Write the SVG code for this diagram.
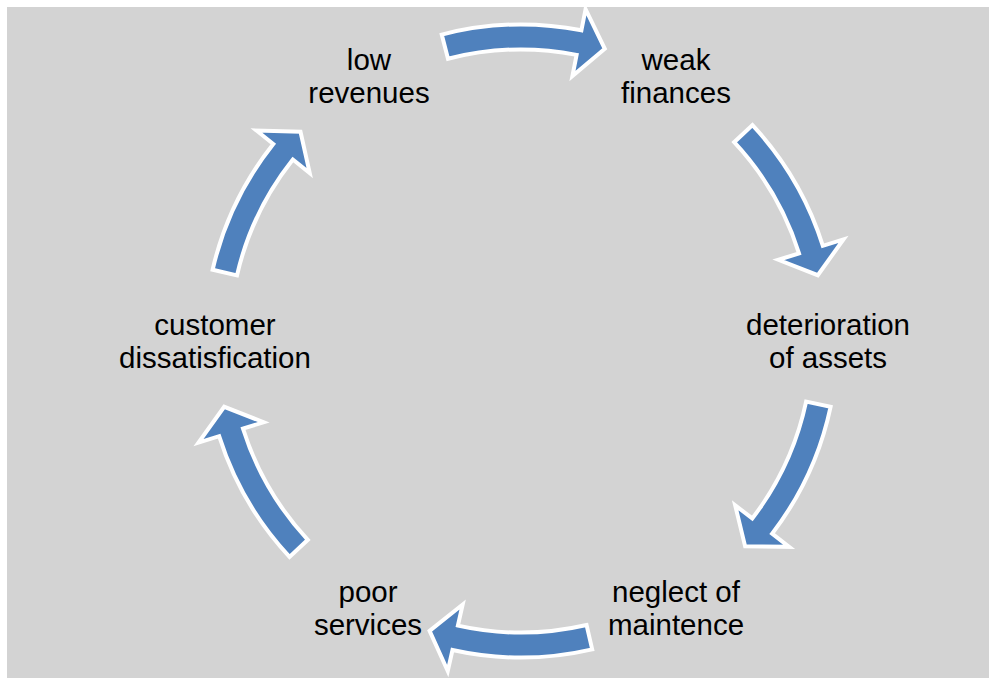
<svg xmlns="http://www.w3.org/2000/svg" xmlns:xlink="http://www.w3.org/1999/xlink" width="990" height="678" viewBox="0 0 990 678">
  <style>
    .label { font-family: "Liberation Sans", Arial, sans-serif; font-size: 29.5px; fill: #000000; text-anchor: middle; }
    .arrow { fill: #4f81bd; stroke: #ffffff; stroke-width: 4; stroke-linejoin: miter; stroke-miterlimit: 10; }
  </style>
  <defs>
    <!-- curved block arrow on a circle of radius 304 around the origin, centred at -90 degrees -->
    <path id="cycle-arrow" class="arrow" d="M -81.92 -305.72 A 316.5 316.5 0 0 1 57.68 -311.20 L 61.68 -332.42 L 81.24 -292.94 L 49.11 -265.40 L 53.12 -286.62 A 291.5 291.5 0 0 0 -75.45 -281.57 Z"/>
  </defs>

  <rect x="7" y="7" width="982" height="671" fill="#d3d3d3"/>

  <g id="connectors" transform="translate(521 341)">
    <use xlink:href="#cycle-arrow" transform="rotate(0.5)"/>
    <use xlink:href="#cycle-arrow" transform="rotate(62)"/>
    <use xlink:href="#cycle-arrow" transform="rotate(117)"/>
    <use xlink:href="#cycle-arrow" transform="rotate(182)"/>
    <use xlink:href="#cycle-arrow" transform="rotate(242)"/>
    <use xlink:href="#cycle-arrow" transform="rotate(298)"/>
  </g>

  <g id="node-low-revenues">
    <text class="label" x="369" y="70">low</text>
    <text class="label" x="369" y="103">revenues</text>
  </g>
  <g id="node-weak-finances">
    <text class="label" x="676" y="70">weak</text>
    <text class="label" x="676" y="103">finances</text>
  </g>
  <g id="node-deterioration">
    <text class="label" x="828" y="335">deterioration</text>
    <text class="label" x="828" y="368">of assets</text>
  </g>
  <g id="node-neglect">
    <text class="label" x="676" y="602">neglect of</text>
    <text class="label" x="676" y="635">maintence</text>
  </g>
  <g id="node-poor-services">
    <text class="label" x="368" y="602">poor</text>
    <text class="label" x="368" y="635">services</text>
  </g>
  <g id="node-customer">
    <text class="label" x="215" y="335">customer</text>
    <text class="label" x="215" y="368">dissatisfication</text>
  </g>
</svg>
